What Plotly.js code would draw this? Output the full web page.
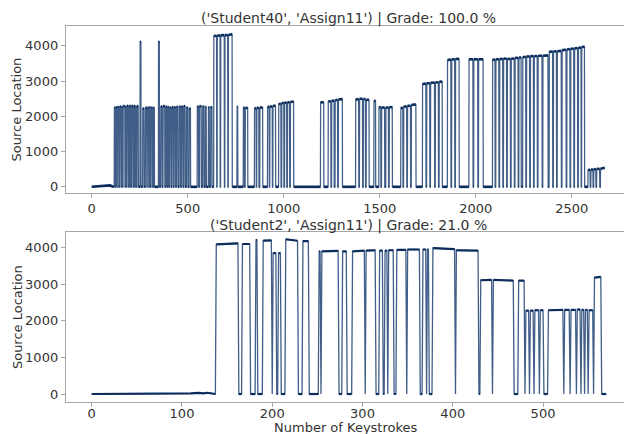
<!DOCTYPE html>
<html>
<head>
<meta charset="utf-8">
<script src="https://cdn.plot.ly/plotly-3.0.1.min.js"></script>
<style>html,body{margin:0;padding:0;background:#fff;}#chart{width:624px;height:434px;}</style>
</head>
<body>
<div id="chart"></div>
<script>
// ---- Top panel: ('Student40', 'Assign11') ----
const topTitle = "('Student40', 'Assign11') | Grade: 100.0 %";
const topLeadX = [0, 30, 50, 70, 95, 110, 117];
const topLeadY = [0, 10, 30, 45, 40, 10, 0];
const topRunStart = [118,126,134,146,156,164,176,184,194,202,210,220,228,236,252,266,280,290,300,310,322,348,360,372,386,396,406,418,430,442,456,468,480,494,508,550,562,578,592,608,620,636,654,672,694,712,757,790,800,848,860,876,916,928,944,974,990,1005,1020,1035,1192,1232,1250,1268,1285,1375,1395,1415,1430,1470,1496,1510,1532,1550,1610,1625,1645,1665,1723,1745,1765,1790,1810,1853,1875,1895,1965,1990,2015,2088,2105,2125,2145,2165,2185,2205,2225,2245,2265,2285,2305,2325,2350,2383,2405,2425,2450,2475,2495,2515,2535,2552,2585,2600,2615,2630,2650];
const topRunEnd   = [122,130,140,152,160,172,180,190,198,206,216,224,232,242,256,272,286,296,304,316,326,352,366,380,390,400,412,424,436,448,462,474,486,500,514,556,570,584,596,612,626,650,668,690,708,731,760,795,812,856,870,890,924,940,957,985,1000,1015,1030,1051,1208,1245,1262,1280,1305,1390,1410,1425,1444,1478,1505,1525,1545,1565,1620,1640,1660,1688,1740,1760,1785,1805,1825,1870,1890,1913,1985,2010,2038,2100,2120,2140,2160,2180,2200,2220,2236,2260,2280,2300,2320,2345,2376,2400,2420,2445,2470,2490,2510,2530,2548,2566,2595,2610,2625,2645,2672];
const topRunLevelA = [2250,2260,2260,2280,2270,2290,2280,2300,2290,2300,2290,2300,2280,2290,4120,2220,2250,2240,2260,2250,2240,4120,2280,2290,2280,2270,2250,2260,2260,2270,2280,2280,2290,2250,2220,2280,2290,2280,2270,2260,2260,4280,4290,4300,4305,4310,2280,2250,2240,2230,2240,2250,2270,2280,2300,2350,2380,2390,2400,2410,2400,2420,2440,2460,2480,2480,2500,2490,2470,2440,2260,2250,2250,2260,2240,2280,2300,2320,2920,2940,2950,2960,2980,3600,3620,3630,3620,3620,3620,3610,3620,3630,3640,3630,3640,3660,3670,3680,3700,3710,3710,3720,3720,3830,3840,3850,3880,3900,3920,3930,3950,3960,480,490,500,510,510];
const topRunLevelB = [2250,2260,2270,2280,2270,2290,2280,2300,2290,2300,2290,2300,2280,2290,4120,2220,2250,2240,2260,2250,2240,4120,2280,2290,2280,2270,2250,2260,2260,2270,2280,2280,2290,2250,2220,2280,2290,2280,2270,2260,2260,4290,4300,4305,4310,4330,2280,2250,2240,2230,2240,2250,2270,2280,2300,2360,2380,2390,2400,2420,2400,2430,2450,2470,2490,2490,2500,2490,2470,2440,2260,2250,2250,2260,2240,2280,2300,2340,2930,2940,2960,2970,2990,3610,3620,3630,3620,3620,3620,3610,3620,3630,3640,3630,3640,3660,3670,3690,3700,3710,3710,3720,3730,3840,3850,3860,3890,3910,3920,3940,3950,3980,480,490,500,510,540];
const topTailX = [];
const topTailY = [];

// ---- Bottom panel: ('Student2', 'Assign11') ----
const botTitle = "('Student2', 'Assign11') | Grade: 21.0 %";
const botLeadX = [0, 105, 110, 118, 124, 128, 133, 137];
const botLeadY = [0, 0, 20, 30, 20, 35, 10, 0];
const botRunStart = [138,167,182,190,201,207,215,234,252,255,278,289,304,319,325,329,338,350,367,372,378,404,431,445,473,481,486,491,497,506,524,531,538,543,547,551,557];
const botRunEnd   = [162,175,183,199,204,209,228,240,253,273,282,302,314,322,327,334,348,363,370,373,402,428,443,467,479,484,489,495,500,522,529,536,541,545,549,555,564];
const botRunLevelA = [4090,4100,4210,4190,3850,3850,4230,4180,3900,3900,3900,3900,3920,3920,3920,3930,3940,3950,3950,3950,3990,3930,3110,3120,3100,2280,2280,2290,2290,2290,2300,2300,2310,2300,2300,2290,3180];
const botRunLevelB = [4120,4100,4210,4200,3850,3850,4190,4180,3900,3910,3900,3920,3930,3920,3920,3930,3940,3950,3950,3950,3960,3920,3120,3100,3100,2280,2280,2290,2290,2300,2300,2300,2310,2300,2300,2290,3200];
const botTailX = [570];
const botTailY = [0];

const yTicks = [0, 1000, 2000, 3000, 4000];
const topXTicks = [0, 500, 1000, 1500, 2000, 2500];
const botXTicks = [0, 100, 200, 300, 400, 500];

// Full polyline (keystroke by keystroke) and its flat parts (plateaus and zero stretches)
function buildSeries(leadX, leadY, s, e, a, b, tailX, tailY) {
  const x = leadX.slice(), y = leadY.slice();
  const hx = leadX.slice(), hy = leadY.slice();
  const n = s.length;
  for (let i = 0; i < n; i++) {
    const last = (i === n - 1) && tailX.length === 0;
    x.push(s[i] - 1, s[i], e[i]);
    y.push(0, a[i], b[i]);
    hx.push(s[i] - 1, null, s[i], e[i], null);
    hy.push(0, null, a[i], b[i], null);
    if (!last) { x.push(e[i] + 1); y.push(0); hx.push(e[i] + 1); hy.push(0); }
  }
  return {x: x.concat(tailX), y: y.concat(tailY), hx: hx.concat(tailX), hy: hy.concat(tailY)};
}

const topS = buildSeries(topLeadX, topLeadY, topRunStart, topRunEnd, topRunLevelA, topRunLevelB, topTailX, topTailY);
const botS = buildSeries(botLeadX, botLeadY, botRunStart, botRunEnd, botRunLevelA, botRunLevelB, botTailX, botTailY);

const lineColor = 'rgba(22,58,110,0.82)';
const flatColor = '#0c2d5c';
function mk(S, xa, ya, w, hw) {
  return [
    {x: S.x, y: S.y, xaxis: xa, yaxis: ya, type: 'scatter', mode: 'lines',
     line: {color: lineColor, width: w}, hoverinfo: 'skip'},
    {x: S.hx, y: S.hy, xaxis: xa, yaxis: ya, type: 'scatter', mode: 'lines', connectgaps: false,
     line: {color: flatColor, width: hw}, hoverinfo: 'skip'}
  ];
}
const traces = mk(topS, 'x', 'y', 1.25, 2.6).concat(mk(botS, 'x2', 'y2', 1.3, 2.2));

const fam = 'DejaVu Sans, sans-serif';
const axisCommon = {showline: true, linecolor: '#a6a6a6', linewidth: 1.2, showgrid: false, zeroline: false,
  ticks: 'outside', ticklen: 4, tickcolor: '#a6a6a6', tickfont: {family: fam, size: 13, color: '#333'}};

const layout = {
  width: 624, height: 434,
  margin: {l: 66, r: 0, t: 26, b: 32},
  paper_bgcolor: '#fff', plot_bgcolor: '#fff',
  showlegend: false, font: {family: fam, size: 13, color: '#333'},
  xaxis: Object.assign({}, axisCommon, {domain: [0, 1], anchor: 'y', range: [-134, 2772], tickvals: topXTicks, mirror: true, ticklabelstandoff: -1}),
  yaxis: Object.assign({}, axisCommon, {domain: [0.5559, 1], anchor: 'x', range: [-175, 4565], tickvals: yTicks}),
  xaxis2: Object.assign({}, axisCommon, {domain: [0, 1], anchor: 'y2', range: [-28.5, 589.7], tickvals: botXTicks, mirror: true, ticklabelstandoff: -5}),
  yaxis2: Object.assign({}, axisCommon, {domain: [0, 0.4513], anchor: 'x2', range: [-218, 4420], tickvals: yTicks}),
  annotations: [
    {text: topTitle, xref: 'paper', yref: 'paper', x: 0.507, y: 1, yshift: 8, showarrow: false, xanchor: 'center', yanchor: 'middle', font: {family: fam, size: 14, color: '#333'}},
    {text: botTitle, xref: 'paper', yref: 'paper', x: 0.507, y: 0.4513, yshift: 7, showarrow: false, xanchor: 'center', yanchor: 'middle', font: {family: fam, size: 14, color: '#333'}},
    {text: 'Source Location', xref: 'paper', yref: 'paper', x: -0.088, y: 0.7779, showarrow: false, textangle: -90, xanchor: 'center', yanchor: 'middle', font: {family: fam, size: 13, color: '#333'}},
    {text: 'Source Location', xref: 'paper', yref: 'paper', x: -0.088, y: 0.2256, showarrow: false, textangle: -90, xanchor: 'center', yanchor: 'middle', font: {family: fam, size: 13, color: '#333'}},
    {text: 'Number of Keystrokes', xref: 'paper', yref: 'paper', x: 0.502, y: 0, yshift: -25.5, showarrow: false, xanchor: 'center', yanchor: 'middle', font: {family: fam, size: 13, color: '#333'}}
  ]
};

Plotly.newPlot('chart', traces, layout, {staticPlot: true, displayModeBar: false});
</script>
</body>
</html>
